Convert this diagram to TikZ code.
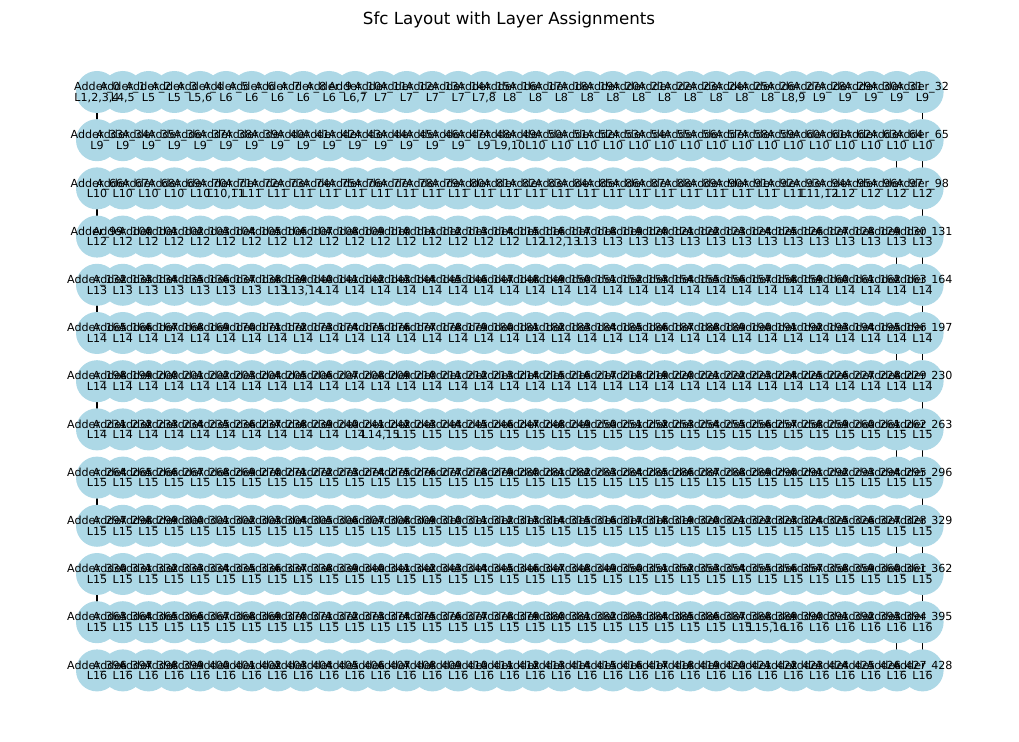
\documentclass[tikz,border=0pt]{standalone}
\usepackage{fontspec}
\setmainfont{DejaVu Sans}
\pgfdeclarelayer{background}
\pgfsetlayers{background,main}
\definecolor{nodeblue}{HTML}{ADD8E6}
\newcommand{\lnbox}[1]{\raisebox{0pt}[6.2pt][0.37pt]{#1}}
\begin{document}
\begin{tikzpicture}[x=0.72pt,y=-0.72pt,
  dot/.style={circle,fill=nodeblue,draw=none,minimum size=30.24pt,inner sep=0pt},
  lbl/.style={font=\fontsize{8}{7.63}\selectfont,align=center,inner sep=0pt,text=black},
  edge/.style={draw=black,line width=0.8pt},
  ttl/.style={font=\fontsize{12}{14}\selectfont,anchor=base,inner sep=0pt}]
\useasboundingbox (0,0) rectangle (1019,742);
\node[ttl] (title) at (509,25) {Sfc Layout with Layer Assignments};
\foreach \r in {0,...,12}{%
  \foreach \c in {0,...,32}{%
    \pgfmathtruncatemacro\i{\r*33+\c}%
    \node[dot] (n\i) at ({97+25.8*\c},{92+48.2*\r}) {};
  }}
\begin{pgfonlayer}{background}
\foreach \r in {0,2,4,6,8,10}{%
  \pgfmathtruncatemacro\a{\r*33}\pgfmathtruncatemacro\b{\a+33}%
  \draw[edge] (n\a.center) -- (n\b.center);}
\foreach \r in {0,...,11}{%
  \pgfmathtruncatemacro\a{\r*33+32}\pgfmathtruncatemacro\b{\a+33}%
  \draw[edge] (n\a.center) -- (n\b.center);}
\foreach \r in {1,3,5,7,9,11}{%
  \pgfmathtruncatemacro\a{\r*33+31}\pgfmathtruncatemacro\b{\a+33}%
  \draw[edge] (n\a.center) -- (n\b.center);}
\end{pgfonlayer}
\foreach \a/\b/\l in {0/0/{1,2,3,4}, 1/1/{4,5}, 2/3/5, 4/4/{5,6}, 5/9/6, 10/10/{6,7},
  11/14/7, 15/15/{7,8}, 16/26/8, 27/27/{8,9}, 28/48/9, 49/49/{9,10}, 50/70/10,
  71/71/{10,11}, 72/93/11, 94/94/{11,12}, 95/116/12, 117/117/{12,13}, 118/139/13,
  140/140/{13,14}, 141/241/14, 242/242/{14,15}, 243/388/15, 389/389/{15,16}, 390/428/16}{%
  \foreach \i in {\a,...,\b}{%
    \node[lbl] (t\i) at (n\i.center) {\lnbox{Adder\_\i}\\\lnbox{L\l}};
  }}
\end{tikzpicture}
\end{document}
